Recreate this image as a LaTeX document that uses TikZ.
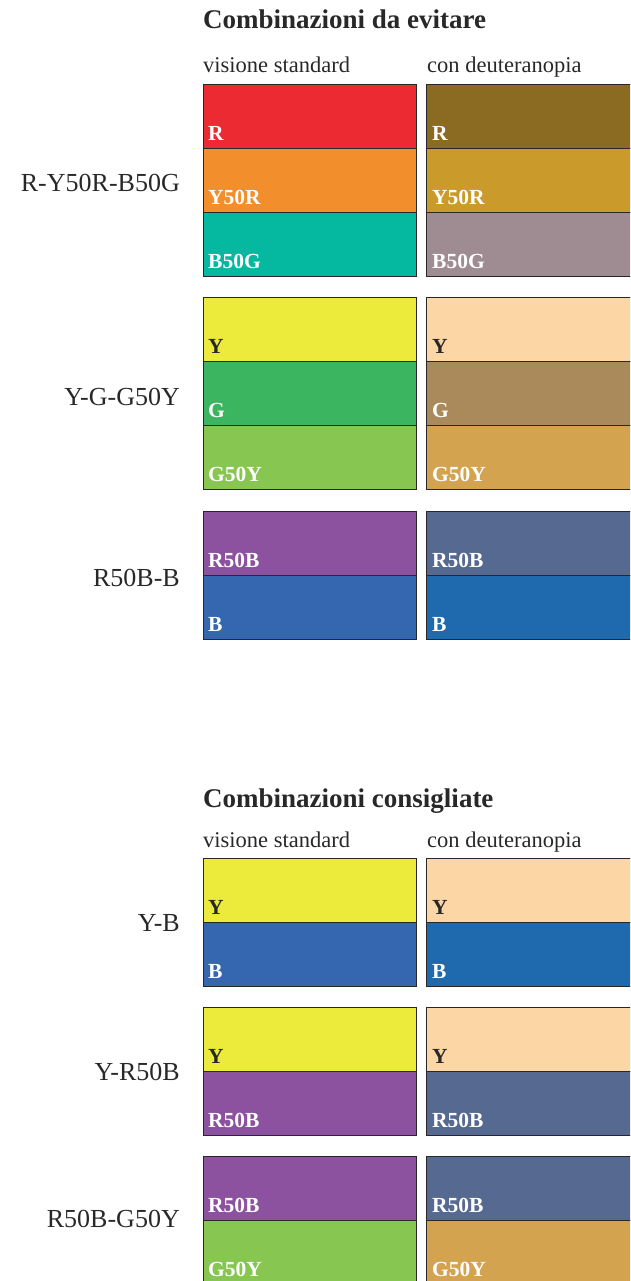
\documentclass[tikz,border=0pt]{standalone}
\usepackage{fontspec}
\setmainfont{Liberation Serif}

% colori: visione standard
\definecolor{sR}{RGB}{236,42,50}
\definecolor{sYR}{RGB}{242,142,43}
\definecolor{sBG}{RGB}{5,184,160}
\definecolor{sY}{RGB}{236,234,59}
\definecolor{sG}{RGB}{59,181,95}
\definecolor{sGY}{RGB}{136,198,82}
\definecolor{sRB}{RGB}{140,82,160}
\definecolor{sB}{RGB}{52,103,175}
% colori: deuteranopia
\definecolor{dR}{RGB}{139,106,34}
\definecolor{dYR}{RGB}{202,154,42}
\definecolor{dBG}{RGB}{158,140,146}
\definecolor{dY}{RGB}{253,214,166}
\definecolor{dG}{RGB}{170,137,91}
\definecolor{dGY}{RGB}{212,163,80}
\definecolor{dRB}{RGB}{85,105,145}
\definecolor{dB}{RGB}{31,105,174}
\definecolor{ink}{RGB}{40,40,40}

\begin{document}
\begin{tikzpicture}[x=1pt, y=-1pt,
    cell/.style={draw=ink, line width=0.9pt},
    tag/.style={anchor=base west, inner sep=0pt, font=\fontsize{21.5}{24}\selectfont\bfseries},
    head/.style={anchor=base west, inner sep=0pt, text=ink, font=\fontsize{22.5}{26}\selectfont},
    title/.style={anchor=base west, inner sep=0pt, text=ink, font=\fontsize{27}{30}\selectfont\bfseries},
    combo/.style={anchor=base east, inner sep=0pt, text=ink, font=\fontsize{26}{30}\selectfont}]
  \clip (0,0) rectangle (630,1281);

  % titoli e intestazioni (y = linea di base)
  \node[title] (tit1) at (203,29) {Combinazioni da evitare};
  \node[head] (std1) at (203,73) {visione standard};
  \node[head] (deu1) at (427,73) {con deuteranopia};
  \node[title] (tit2) at (203,807) {Combinazioni consigliate};
  \node[head] (std2) at (203,847) {visione standard};
  \node[head] (deu2) at (427,847) {con deuteranopia};

  % celle: y in alto / colore standard / colore deuteranopia / etichetta / testo
  \foreach \y/\cs/\cd/\lab/\tc in {
      84/sR/dR/R/white, 148/sYR/dYR/Y50R/white, 212/sBG/dBG/B50G/white,
      297/sY/dY/Y/ink, 361/sG/dG/G/white, 425/sGY/dGY/G50Y/white,
      511/sRB/dRB/R50B/white, 575/sB/dB/B/white,
      858/sY/dY/Y/ink, 922/sB/dB/B/white,
      1007/sY/dY/Y/ink, 1071/sRB/dRB/R50B/white,
      1156/sRB/dRB/R50B/white, 1220/sGY/dGY/G50Y/white} {
    \draw[cell, fill=\cs] (203,\y) rectangle (416,\y+64);
    \draw[cell, fill=\cd] (426,\y) rectangle (639,\y+64);
    \node[tag, text=\tc] (s-\y) at (208,\y+56.5) {\lab};
    \node[tag, text=\tc] (d-\y) at (432,\y+56.5) {\lab};
  }

  % nomi delle combinazioni
  \node[combo] (c1) at (180,192) {R-Y50R-B50G};
  \node[combo] (c2) at (180,405) {Y-G-G50Y};
  \node[combo] (c3) at (180,586) {R50B-B};
  \node[combo] (c4) at (180,931) {Y-B};
  \node[combo] (c5) at (180,1080) {Y-R50B};
  \node[combo] (c6) at (180,1227) {R50B-G50Y};
\end{tikzpicture}
\end{document}
